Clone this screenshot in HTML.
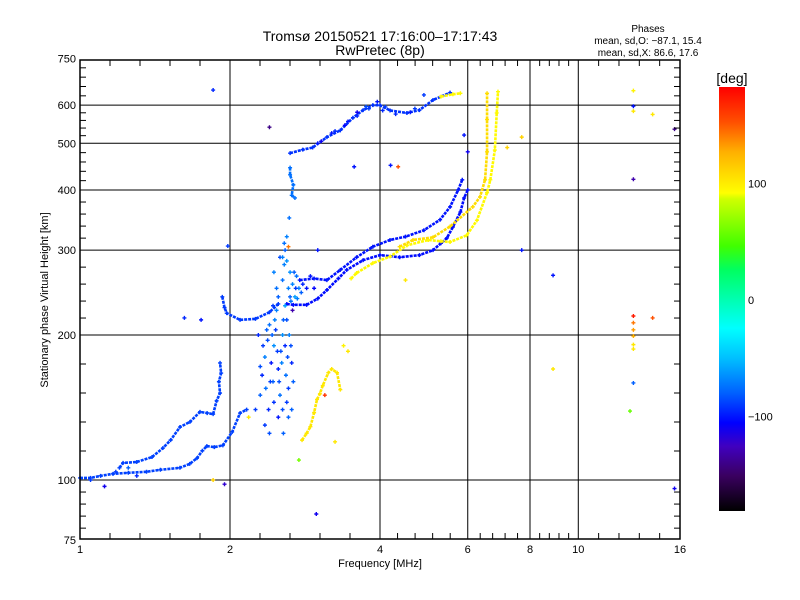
<!DOCTYPE html>
<html><head><meta charset="utf-8"><style>
body{margin:0;background:#fff;}
svg{display:block;font-family:"Liberation Sans",sans-serif;}
</style></head><body>
<svg id="chart" width="800" height="600" viewBox="0 0 800 600">
<defs>
<linearGradient id="cmap" x1="0" y1="1" x2="0" y2="0">
<stop offset="0" stop-color="#000000"/><stop offset="0.083" stop-color="#3a0060"/><stop offset="0.153" stop-color="#4000c0"/><stop offset="0.208" stop-color="#0000ff"/><stop offset="0.278" stop-color="#0060ff"/><stop offset="0.361" stop-color="#00c0ff"/><stop offset="0.431" stop-color="#00ffff"/><stop offset="0.569" stop-color="#00ff60"/><stop offset="0.625" stop-color="#40ff00"/><stop offset="0.736" stop-color="#d0ff00"/><stop offset="0.75" stop-color="#ffff00"/><stop offset="0.847" stop-color="#ffb000"/><stop offset="0.917" stop-color="#ff5000"/><stop offset="1" stop-color="#ff0000"/>
</linearGradient>
</defs>
<text x="380" y="41" font-size="14" text-anchor="middle">Tromsø 20150521 17:16:00–17:17:43</text>
<text x="380" y="55" font-size="14" text-anchor="middle">RwPretec (8p)</text>
<text x="648" y="32" font-size="10" text-anchor="middle">Phases</text>
<text x="648" y="44" font-size="10" text-anchor="middle">mean, sd,O: −87.1, 15.4</text>
<text x="648" y="56" font-size="10" text-anchor="middle">mean, sd,X:  86.6, 17.6</text>
<g id="grid"></g>
<g id="marks"></g>
<rect x="80" y="60" width="600" height="479" fill="none" stroke="#000" stroke-width="1.5"/>
<g id="ticks"></g>
<text x="380" y="567" font-size="11" text-anchor="middle">Frequency [MHz]</text>
<text transform="translate(48,300) rotate(-90)" font-size="11" text-anchor="middle">Stationary phase Virtual Height [km]</text>
<rect x="719" y="87" width="26" height="424" fill="url(#cmap)"/>
<text x="732" y="83" font-size="14" text-anchor="middle">[deg]</text>
<g id="cbticks"></g>
</svg>
<script>
const xMajors=[1,2,4,6,8,10,16];
const xLabels=["1","2","4","6","8","10","16"];
const yMajors=[75,100,200,300,400,500,600,750];
const yLabels=["75","100","200","300","400","500","600","750"];
const xGrid=[2,4,6,8,10];
const yGrid=[100,200,300,400,500,600];
const cbTicks=[100,0,-100];
const cbLabels=["100","0","−100"];

const traceO1=[[1.0,101],[1.05,101],[1.1,102],[1.165,103],[1.25,103.5],[1.36,104],[1.45,105],[1.587,106],[1.66,108],[1.717,111],[1.76,115],[1.797,117.6],[1.86,117],[1.935,118],[2.02,125.8],[2.095,137.7],[2.16,140]];
const traceO1Phase=-88;
const traceB=[[1.2,106],[1.22,108.5],[1.3,109],[1.395,111.6],[1.467,116.5],[1.52,121],[1.587,128.8],[1.662,132],[1.741,138.5],[1.8,137.7],[1.85,137],[1.88,146],[1.91,151.5],[1.9,160],[1.92,166.7],[1.91,175]];
const traceBPhase=-88;
const traceE=[[1.93,240],[1.95,228],[1.97,222],[2.095,215],[2.25,216],[2.4,223],[2.5,232]];
const traceEPhase=-90;
const traceF1=[[2.6,232],[2.68,231],[2.85,231],[3.0,238],[3.13,248],[3.3,262],[3.43,273],[3.7,286],[4.0,293],[4.38,290],[4.8,293],[5.11,300],[5.3,310],[5.45,318],[5.6,335],[5.8,360],[5.9,385],[6.0,400]];
const traceF1Phase=-102;
const traceF2=[[2.76,260],[2.95,262],[3.13,260],[3.33,273],[3.59,290],[3.87,305],[4.19,315],[4.5,320],[4.9,330],[5.28,347],[5.53,369],[5.74,400],[5.85,420]];
const traceF2Phase=-100;
const traceX1=[[3.5,262],[3.59,269],[3.87,282],[4.19,291],[4.53,307],[5.0,315],[5.3,313],[5.53,312],[5.97,322],[6.26,346],[6.56,395],[6.66,420],[6.8,484],[6.86,578],[6.9,640]];
const traceX1Phase=92;
const traceX2=[[4.38,305],[4.66,315],[5.11,319],[5.53,336],[6.14,369],[6.35,387],[6.5,420],[6.56,480],[6.56,560],[6.56,635]];
const traceX2Phase=105;
const traceTop=[[2.64,477],[2.8,485],[2.93,490],[3.13,515],[3.33,532],[3.53,565],[3.7,586],[3.87,600],[4.0,600],[4.19,585],[4.53,578],[4.8,586],[5.11,615],[5.53,637]];
const traceTopPhase=-92;
const traceTopX=[[5.3,625],[5.6,632],[5.8,635]];
const traceTopXPhase=92;
const traceSpike=[[2.64,445],[2.64,430],[2.68,410],[2.66,390],[2.7,385]];
const traceSpikePhase=-75;
const traceLowX=[[2.79,121],[2.85,125],[2.9,129],[2.95,138],[2.99,147],[3.03,151],[3.07,157],[3.15,167],[3.2,170],[3.28,167],[3.33,154]];
const traceLowXPhase=100;

const cuspPoints=[[2.25,140,-90],[2.3,150,-80],[2.32,165,-95],[2.35,180,-70],[2.38,195,-85],[2.4,210,-75],[2.42,175,-100],[2.44,160,-80],[2.45,190,-65],[2.47,205,-90],[2.48,225,-70],[2.5,240,-80],[2.5,170,-95],[2.52,150,-75],[2.53,185,-85],[2.55,200,-65],[2.55,260,-75],[2.57,280,-70],[2.58,300,-80],[2.58,230,-60],[2.6,215,-85],[2.6,145,-90],[2.62,135,-80],[2.62,250,-70],[2.64,270,-65],[2.65,190,-85],[2.66,175,-95],[2.68,160,-80],[2.7,240,-60],[2.72,265,-75],[2.75,250,-70],[2.78,245,-80],[2.6,320,-70],[2.63,350,-75],[2.35,130,-90],[2.4,125,-85],[2.28,200,-95],[2.5,135,-100],[2.56,125,-80],[2.45,270,-70],[2.52,290,-85],[2.67,225,-130],[2.62,305,140],
[2.3,172,-85],[2.33,190,-90],[2.36,155,-75],[2.39,140,-95],[2.41,160,-88],[2.43,200,-80],[2.46,215,-70],[2.49,185,-90],[2.51,160,-85],[2.54,175,-70],[2.56,215,-80],[2.58,190,-95],[2.59,165,-75],[2.61,180,-85],[2.63,200,-70],[2.65,235,-75],[2.67,255,-68],[2.69,270,-80],[2.71,250,-90],[2.73,238,-70],[2.8,255,-95],[2.85,250,-100],[2.9,265,-100],[2.95,250,-105],[2.55,290,-70],[2.57,310,-75],[2.6,285,-65],[2.64,240,-80],[2.48,250,-75],[2.44,230,-90],[2.37,205,-80],[2.62,155,-90],[2.66,140,-80],[2.55,140,-85],[2.45,145,-92],
[3.0,500,-100],[3.05,505,-110],[3.2,525,-100],[3.25,530,-95],[3.4,545,-105],[3.45,555,-100],[3.6,570,-95],[3.8,590,-90],[3.95,610,-100],[4.1,595,-90],[4.3,575,-95],[4.6,580,-100],[4.7,590,-90],[3.6,580,-110],[3.75,596,-85],[4.05,585,-95]];
const scatterPoints=[[1.85,645,-95],[2.4,540,-140],[2.98,85,-110],[3.55,447,-100],[4.35,447,150],[1.75,215,-100],[1.62,217,-95],[1.05,100,-90],[1.12,97,-110],[1.18,104,-90],[1.25,106,-80],[1.3,102,-95],[1.85,100,110],[1.95,98,-120],[1.98,306,-90],[2.18,135,100],[2.75,110,60],[3.1,150,160],[3.25,120,100],[3.45,185,100],[3.38,190,95],[4.2,450,-100],[5.9,520,-100],[6.0,480,-110],[7.7,515,110],[7.7,300,-100],[7.2,490,110],[8.9,266,-100],[8.9,170,100],[12.9,643,95],[12.9,597,-100],[12.9,583,100],[12.9,421,-130],[12.9,219,170],[12.9,212,140],[12.9,205,130],[12.9,199,125],[12.9,191,100],[12.9,187,100],[12.9,159,-80],[12.7,139,55],[14.1,217,150],[14.1,574,100],[15.6,535,-140],[15.6,96,-110],[4.9,630,-90],[3.0,300,-100],[4.5,260,100]];

const NS='http://www.w3.org/2000/svg';
function X(f){return 80+150*Math.log2(f);}
function Y(h){return 480-481.7*Math.log10(h/100);}
function CY(v){return 300-1.165*v;}
const stops=[[-180,[0,0,0]],[-150,[58,0,96]],[-125,[64,0,192]],[-105,[0,0,255]],[-80,[0,96,255]],[-50,[0,192,255]],[-25,[0,255,255]],[25,[0,255,96]],[45,[64,255,0]],[85,[208,255,0]],[90,[255,255,0]],[125,[255,176,0]],[150,[255,80,0]],[180,[255,0,0]]];
function color(v){
  for(let i=0;i<stops.length-1;i++){
    const a=stops[i],b=stops[i+1];
    if(v<=b[0]){const t=Math.max(0,(v-a[0])/(b[0]-a[0]));
      return 'rgb('+a[1].map((c,k)=>Math.round(c+(b[1][k]-c)*t)).join(',')+')';}
  }
  return 'rgb(255,0,0)';
}
function el(tag,attrs,parent){const e=document.createElementNS(NS,tag);for(const k in attrs)e.setAttribute(k,attrs[k]);parent.appendChild(e);return e;}
const grid=document.getElementById('grid'),ticks=document.getElementById('ticks'),marks=document.getElementById('marks'),cbt=document.getElementById('cbticks');

xGrid.forEach(f=>{const l=el('line',{x1:X(f),x2:X(f),y1:60,y2:539,stroke:'#000','stroke-width':1},grid);

});
yGrid.forEach(h=>{const l=el('line',{x1:80,x2:680,y1:Y(h),y2:Y(h),stroke:'#000','stroke-width':1},grid);

});

for(let i=0;i<xMajors.length-1;i++){
  const a=Math.log2(xMajors[i]),b=Math.log2(xMajors[i+1]);
  for(let k=1;k<5;k++){const x=80+150*(a+(b-a)*k/5);
    const t1=el('line',{x1:x,x2:x,y1:539,y2:533,stroke:'#000'},ticks);
    
    
    const t2=el('line',{x1:x,x2:x,y1:60,y2:66,stroke:'#000'},ticks);
    
    }
}
xMajors.forEach((f,i)=>{const t=el('text',{x:X(f),y:553,'font-size':11,'text-anchor':'middle'},ticks);t.textContent=xLabels[i];

});
for(let i=0;i<yMajors.length-1;i++){
  const a=Math.log10(yMajors[i]),b=Math.log10(yMajors[i+1]);
  for(let k=1;k<5;k++){const y=Y(Math.pow(10,a+(b-a)*k/5));
    const t1=el('line',{x1:80,x2:86,y1:y,y2:y,stroke:'#000'},ticks);
    
    
    const t2=el('line',{x1:674,x2:680,y1:y,y2:y,stroke:'#000'},ticks);
    
    }
}
yMajors.forEach((h,i)=>{const t=el('text',{x:76,y:Y(h)+4,'font-size':11,'text-anchor':'end'},ticks);t.textContent=yLabels[i];

});
cbTicks.forEach((v,i)=>{const t=el('text',{x:748,y:CY(v)+4,'font-size':11},cbt);t.textContent=cbLabels[i];

});

function plus(f,h,v,name){
  const x=X(f),y=Y(h);
  const p=el('path',{d:'M'+(x-2)+' '+y+'h4M'+x+' '+(y-2)+'v4',stroke:color(v),'stroke-width':1.4,fill:'none'},marks);
  
  
}
function trace(pts,v,name){
  const pl=el('polyline',{points:pts.map(p=>X(p[0])+','+Y(p[1])).join(' '),fill:'none',stroke:color(v),'stroke-width':2.6,'stroke-linejoin':'round','stroke-dasharray':'3 1'},marks);
  
  
  pts.forEach(p=>plus(p[0],p[1],v,name+'-point'));
}
trace(traceO1,traceO1Phase,'o-trace-low');
trace(traceB,traceBPhase,'o-trace-upper');
trace(traceE,traceEPhase,'e-layer-trace');
trace(traceF1,traceF1Phase,'f-o-trace');
trace(traceF2,traceF2Phase,'f-o-trace-upper');
trace(traceTop,traceTopPhase,'f2-trace-top');
trace(traceSpike,traceSpikePhase,'spike-trace');
trace(traceX1,traceX1Phase,'x-trace');
trace(traceX2,traceX2Phase,'x-trace-upper');
trace(traceTopX,traceTopXPhase,'x-trace-top');
trace(traceLowX,traceLowXPhase,'x-trace-low');
cuspPoints.forEach(p=>plus(p[0],p[1],p[2],'cusp-point'));
scatterPoints.forEach(p=>plus(p[0],p[1],p[2],'scatter-point'));
</script>
</body></html>
